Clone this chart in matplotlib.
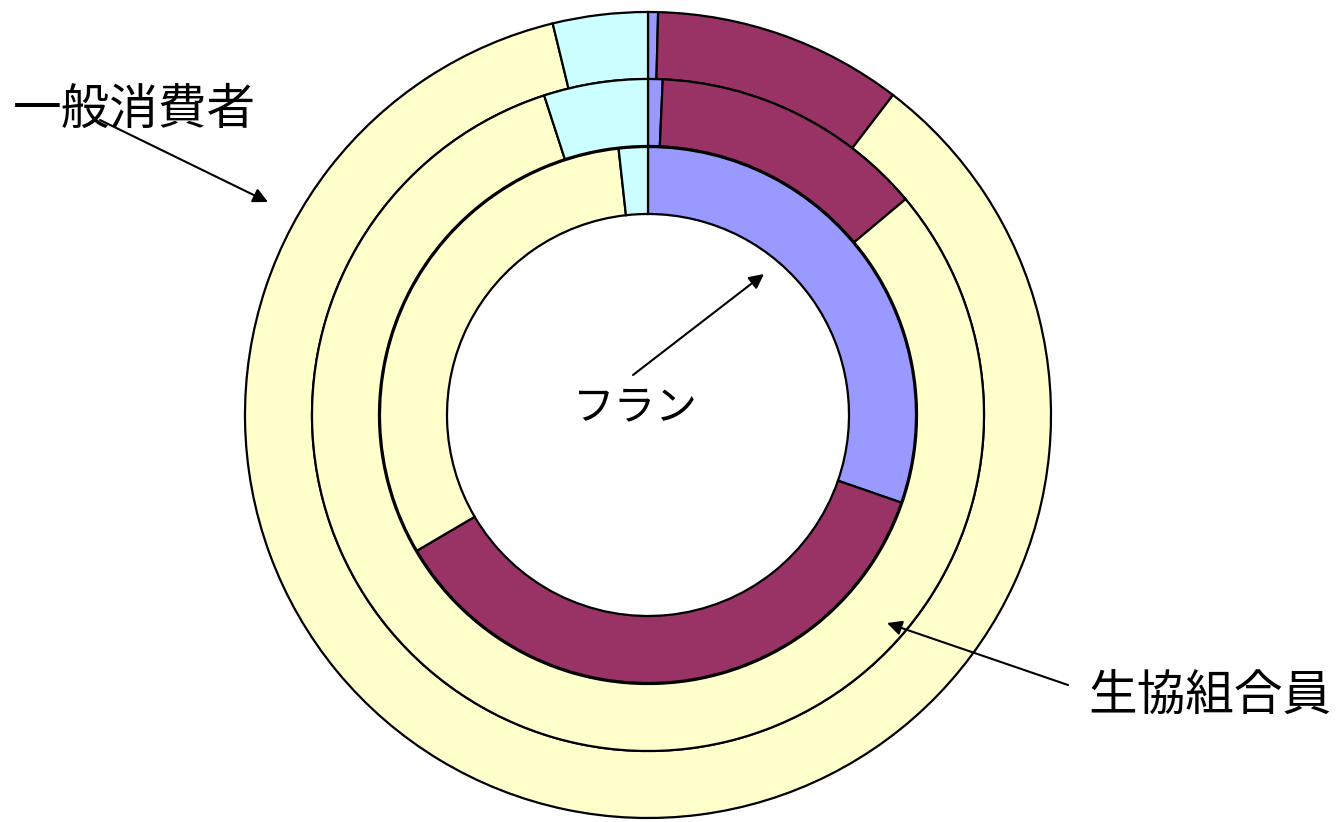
import matplotlib
matplotlib.use("Agg")
import matplotlib.pyplot as plt

plt.rcParams['font.family'] = ['Noto Sans CJK JP', 'DejaVu Sans']

# slice order, clockwise from 12 o'clock
colors = ['#9999FF', '#993366', '#FFFFCC', '#CCFFFF']

# percentages per ring (outer -> inner)
outer_ring = [0.4, 10.0, 85.8, 3.8]
middle_ring = [0.7, 13.2, 81.1, 5.0]
inner_ring = [30.3, 36.25, 31.7, 1.75]

ring_labels = ['一般消費者', '生協組合員', 'フラン']

W, H = 1343, 822
fig = plt.figure(figsize=(W / 100, H / 100), dpi=100)
ax = fig.add_axes([0, 0, 1, 1])

cx, cy = 648, H - 415
radii = [403, 336, 268]
width = 67

for vals, r in zip([outer_ring, middle_ring, inner_ring], radii):
    ax.pie(vals, colors=colors, radius=r, center=(cx, cy),
           startangle=90, counterclock=False,
           wedgeprops=dict(width=width, edgecolor='black', linewidth=1.6))

ax.set_xlim(0, W)
ax.set_ylim(0, H)
ax.set_aspect('equal')
ax.axis('off')

arrow = dict(arrowstyle='-|>', color='black', lw=1.5, mutation_scale=22,
             shrinkA=0, shrinkB=0)

# 一般消費者 -> outer ring
ax.text(13, H - 110, ring_labels[0], fontsize=35, va='center', ha='left')
ax.annotate('', xy=(268, H - 202), xytext=(100, H - 120), arrowprops=arrow)

# 生協組合員 -> middle ring
ax.text(1088, H - 697, ring_labels[1], fontsize=35, va='center', ha='left')
ax.annotate('', xy=(887, H - 623), xytext=(1068, H - 685), arrowprops=arrow)

# フラン -> inner ring
ax.text(635, H - 408, ring_labels[2], fontsize=30, va='center', ha='center')
ax.annotate('', xy=(764, H - 274), xytext=(633, H - 375), arrowprops=arrow)

fig.savefig('out.png', dpi=100, facecolor='white')
